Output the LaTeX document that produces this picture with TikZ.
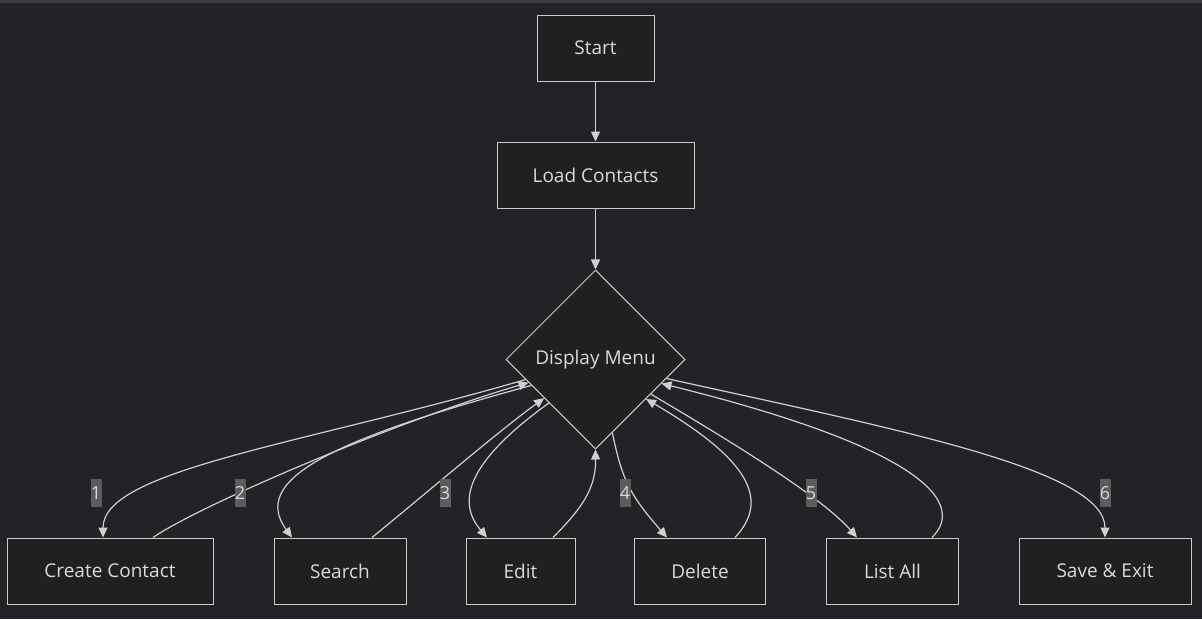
\documentclass[tikz,border=0pt]{standalone}
\usepackage{fontspec}
\setmainfont{Open Sans}
\usetikzlibrary{shapes.geometric,arrows.meta,positioning}
\definecolor{bgcol}{HTML}{222327}
\definecolor{barcol}{HTML}{3C3D42}
\definecolor{boxfill}{HTML}{1F2020}
\definecolor{boxline}{HTML}{CACACA}
\definecolor{txtcol}{HTML}{DADADA}
\definecolor{linecol}{HTML}{D0D0D0}
\definecolor{lblfill}{HTML}{5C5C5C}
\tikzset{stepbox/.style={rectangle,draw=boxline,fill=boxfill,line width=1pt,minimum height=66pt,text=txtcol,font=\fontsize{19}{22}\selectfont}}
\tikzset{choice/.style={diamond,draw=boxline,fill=boxfill,line width=1pt,minimum width=179pt,minimum height=179pt,inner sep=0pt,text=txtcol,font=\fontsize{19}{22}\selectfont}}
\tikzset{elabel/.style={rectangle,fill=lblfill,minimum width=11pt,minimum height=28pt,inner sep=0pt,text=txtcol,font=\fontsize{18}{22}\selectfont}}
\tikzset{flow/.style={-{Triangle[length=10pt,width=9pt]},draw=linecol,line width=1.2pt}}

\begin{document}
\begin{tikzpicture}[x=1pt,y=-1pt]
\fill [bgcol] (0,0) rectangle (1202,619);
\fill [barcol] (0,0) rectangle (1202,3);
\useasboundingbox (0,0) rectangle (1202,619);
\begin{scope}[node distance=60pt]
	\node (start) [stepbox, minimum width=117pt] at (595.5,48) {Start} ;
	\node (load) [stepbox, minimum width=197pt, below =of start] {Load Contacts} ;
	\node (menu) [choice, below =61pt of load] {Display Menu} ;
	\node (create) [stepbox, minimum width=206pt] at (110,571) {Create Contact} ;
	\node (search) [stepbox, minimum width=132pt] at (340,571) {Search} ;
	\node (edit) [stepbox, minimum width=109pt] at (520.5,571) {Edit} ;
	\node (delete) [stepbox, minimum width=131pt] at (700,571) {Delete} ;
	\node (listall) [stepbox, minimum width=132pt] at (892.5,571) {List All} ;
	\node (save) [stepbox, minimum width=172pt] at (1105,571) {Save \& Exit} ;
\end{scope}
\draw [flow] (start) -- (load);
\draw [flow] (load) -- (menu);
% menu to the options and back
\draw [flow] (menu.196) .. controls (300,445) and (103,470) .. ([xshift=-7pt]create.north);
\draw [flow] ([xshift=43pt]create.north) .. controls (200,505) and (400,420) .. (menu.199);
\draw [flow] (menu.202) .. controls (330,440) and (250,480) .. ([xshift=-48pt]search.north);
\draw [flow] ([xshift=32pt]search.north) .. controls (430,490) and (500,430) .. (menu.217);
\draw [flow] (menu.223) .. controls (470,460) and (455,500) .. ([xshift=-33.5pt]edit.north);
\draw [flow] ([xshift=32.5pt]edit.north) .. controls (580,510) and (596,490) .. (menu.south);
\draw [flow] (menu.283) .. controls (622,480) and (630,495) .. ([xshift=-33pt]delete.north);
\draw [flow] ([xshift=35pt]delete.north) .. controls (770,500) and (750,460) .. (menu.322);
\draw [flow] (menu.328) .. controls (720,435) and (820,495) .. ([xshift=-35.5pt]listall.north);
\draw [flow] ([xshift=39.5pt]listall.north) .. controls (965,505) and (930,450) .. (menu.340);
\draw [flow] (menu.345) .. controls (900,430) and (1105,470) .. (save.north);
% option numbers
\node (l1) [elabel] at (96,493) {1};
\node (l2) [elabel] at (240,493) {2};
\node (l3) [elabel] at (445,493) {3};
\node (l4) [elabel] at (625,493) {4};
\node (l5) [elabel] at (811,493) {5};
\node (l6) [elabel] at (1105,493) {6};
\end{tikzpicture}
\end{document}
